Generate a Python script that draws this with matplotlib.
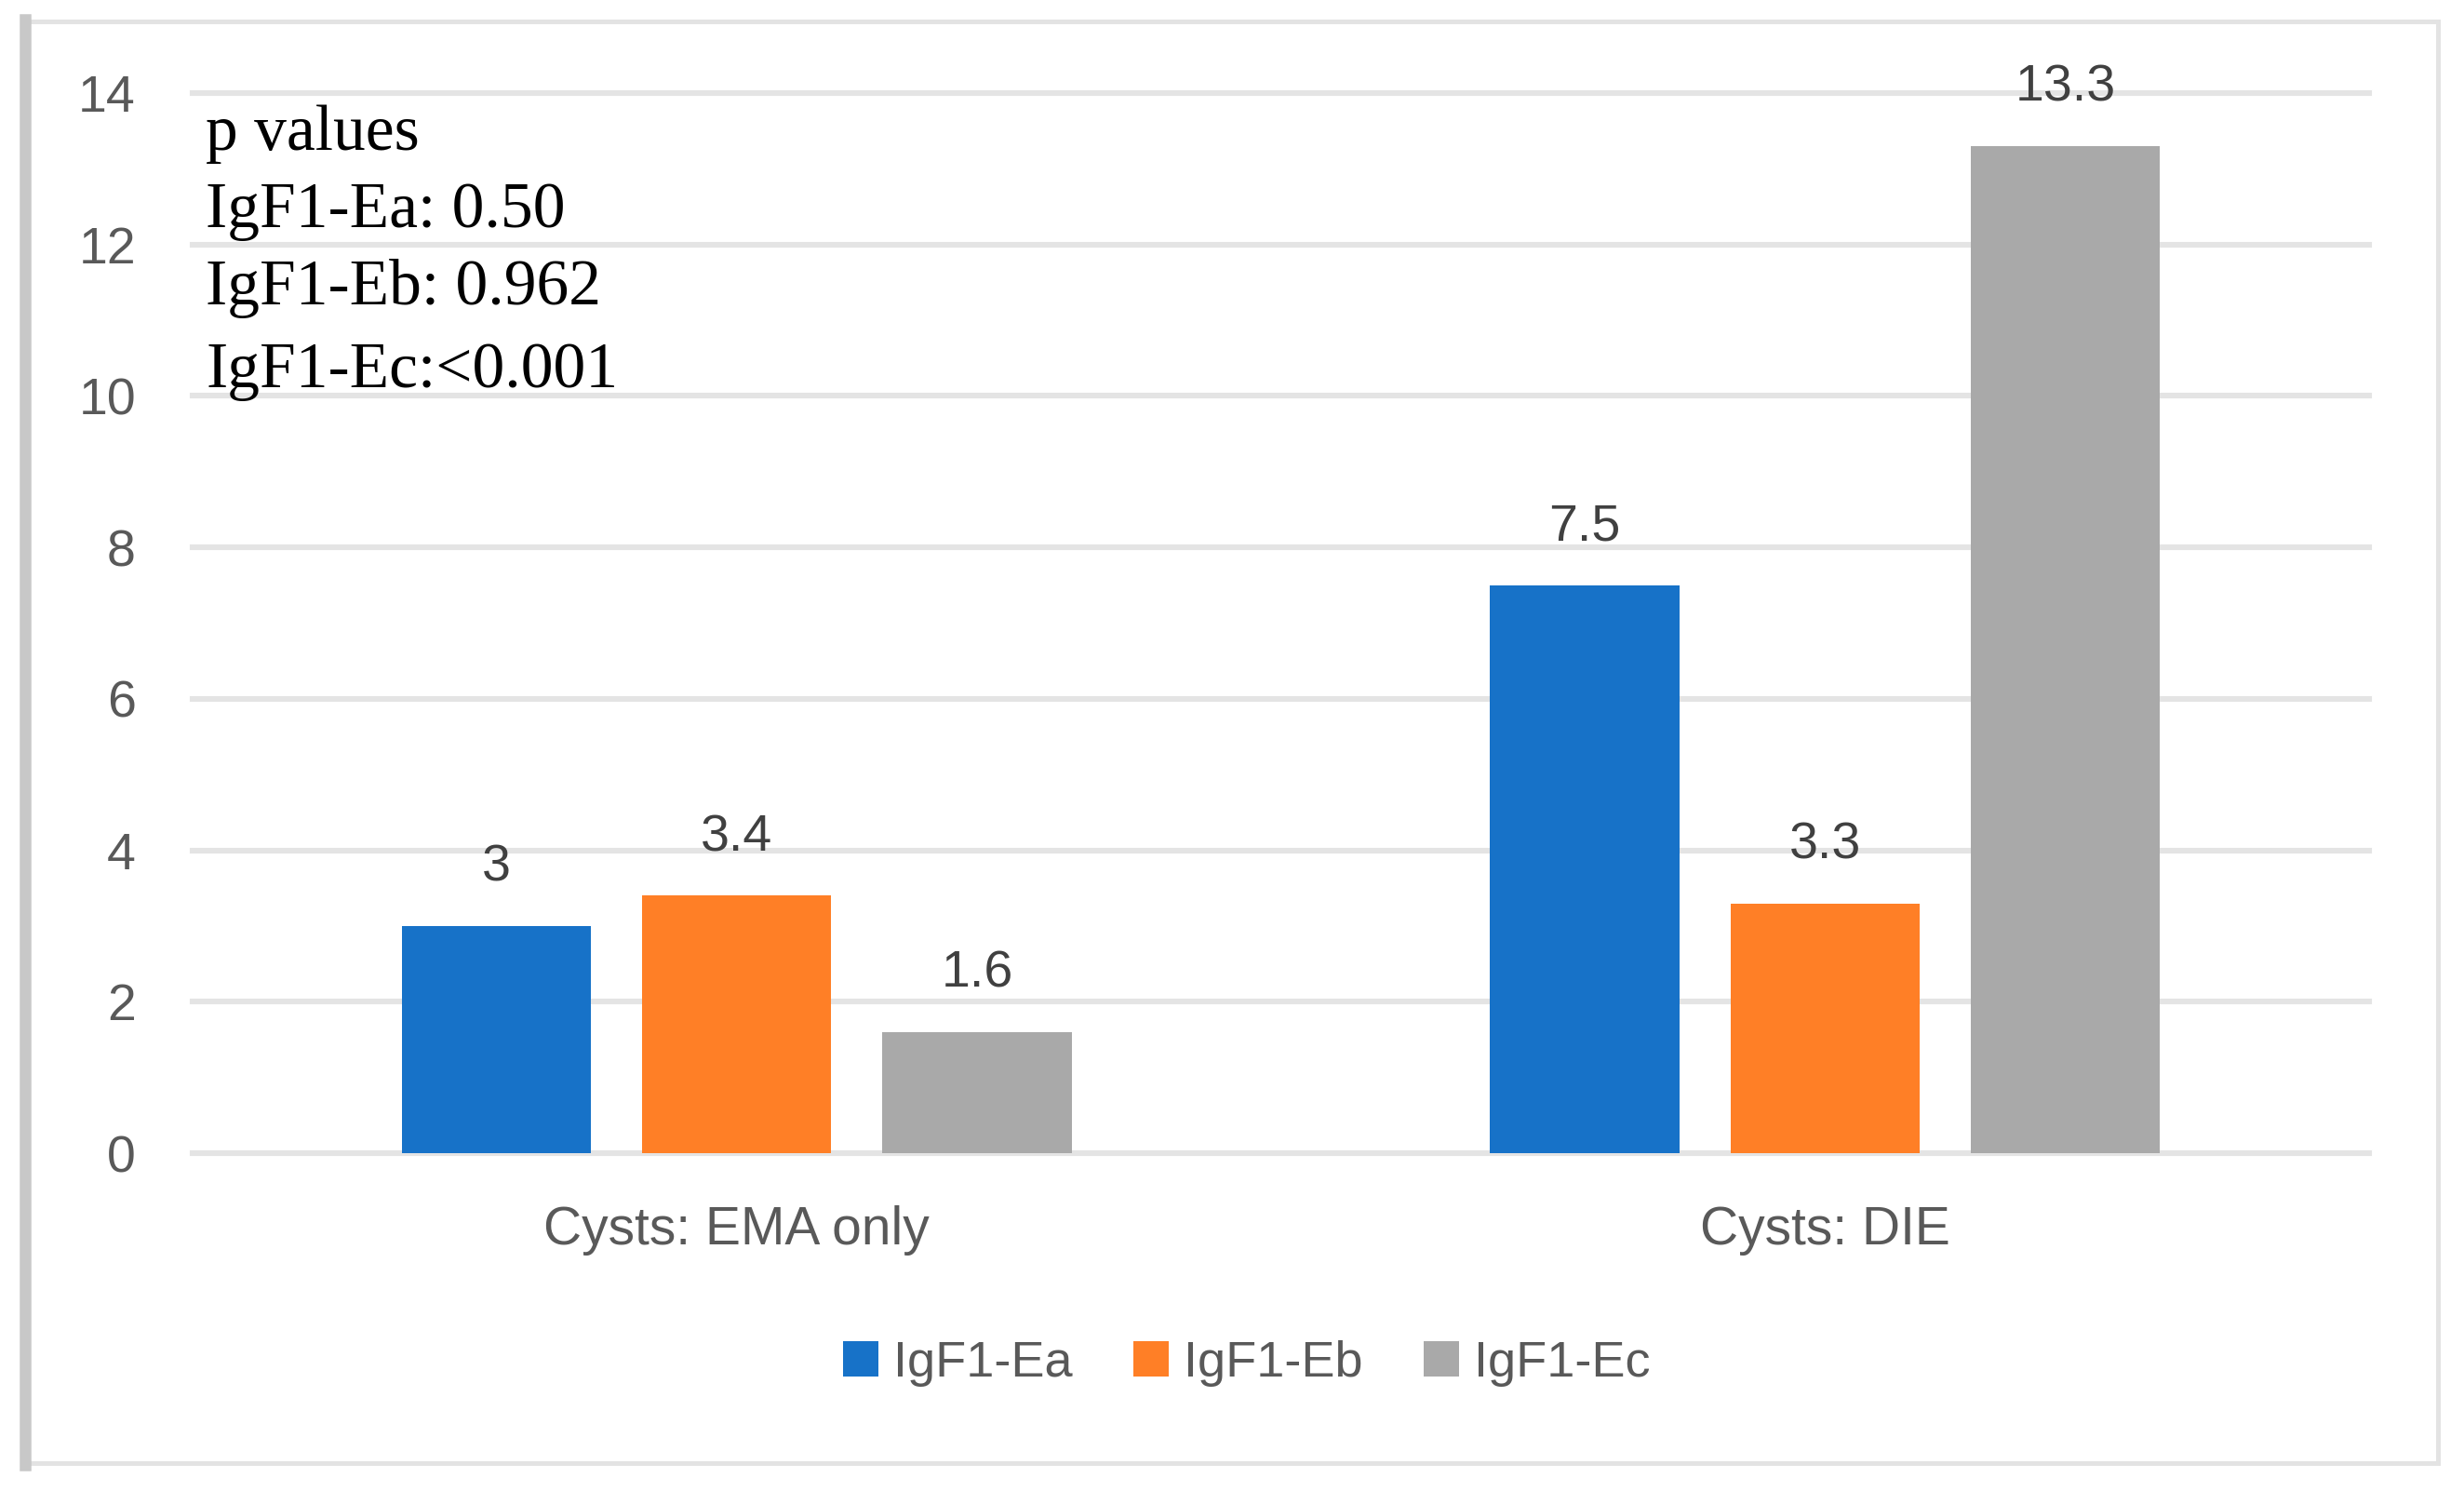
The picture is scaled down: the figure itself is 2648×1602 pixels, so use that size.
import matplotlib
matplotlib.use("Agg")
import matplotlib.pyplot as plt
import numpy as np
from matplotlib.patches import Rectangle
from matplotlib.lines import Line2D

# ---- data ----
categories = ["Cysts: EMA only", "Cysts: DIE"]
series_names = ["IgF1-Ea", "IgF1-Eb", "IgF1-Ec"]
vals_ea = [3, 7.5]
vals_eb = [3.4, 3.3]
vals_ec = [1.6, 13.3]
label_ea = ["3", "7.5"]
label_eb = ["3.4", "3.3"]
label_ec = ["1.6", "13.3"]
y_ticks = [0, 2, 4, 6, 8, 10, 12, 14]
pvalue_lines = ["p values", "IgF1-Ea: 0.50", "IgF1-Eb: 0.962", "IgF1-Ec:<0.001"]

colors = ["#1772C8", "#FF7F26", "#A9A9A9"]
sans = ["Liberation Sans", "DejaVu Sans"]
serif = ["Liberation Serif", "DejaVu Serif"]

W, H = 2648, 1602
dpi = 200
fig = plt.figure(figsize=(W / dpi, H / dpi), dpi=dpi)
fig.patch.set_facecolor("white")

ax = fig.add_axes([207 / W, 1 - 1239 / H, (2546 - 207) / W, (1239 - 100) / H])
ax.set_facecolor("white")

x = np.arange(len(categories))
step = 0.221
bw = 0.174
all_vals = [vals_ea, vals_eb, vals_ec]
all_labels = [label_ea, label_eb, label_ec]
for i, (vals, labs) in enumerate(zip(all_vals, all_labels)):
    bars = ax.bar(x + (i - 1) * step, vals, width=bw, color=colors[i],
                  label=series_names[i], zorder=3, linewidth=0)
    ax.bar_label(bars, labels=labs, padding=13, fontsize=20, color="#404040",
                 family=sans)

ax.set_xlim(-0.5, 1.5)
ax.set_ylim(0, 14)
ax.set_yticks(y_ticks)
ax.set_yticklabels([str(t) for t in y_ticks])
ax.set_xticks(x)
ax.set_xticklabels(categories)
ax.yaxis.grid(True, color="#E4E4E4", linewidth=2.2, zorder=0)
for gl in ax.get_ygridlines():
    gl.set_clip_on(False)
ax.set_axisbelow(True)
for s in ax.spines.values():
    s.set_visible(False)
ax.tick_params(axis="y", length=0, pad=22, labelsize=20, labelcolor="#595959")
ax.tick_params(axis="x", length=0, pad=20, labelsize=20.5, labelcolor="#595959")
for lab in ax.get_yticklabels() + ax.get_xticklabels():
    lab.set_family(sans)

# p values annotation
ys = [0.9465, 0.8736, 0.8007, 0.7226]
for txt, yy in zip(pvalue_lines, ys):
    ax.text(0.006, yy, txt, transform=ax.transAxes, fontsize=25, family=serif,
            color="black", va="baseline", ha="left")

# legend
leg = fig.legend(loc="center", bbox_to_anchor=(0.506, 0.0855), ncol=3,
                 frameon=False, handlelength=0.7, handleheight=0.7,
                 handletextpad=0.3, columnspacing=1.2,
                 prop={"family": sans, "size": 19.5})
for t in leg.get_texts():
    t.set_color("#595959")

# outer border
fig.add_artist(Rectangle((27 / W, 1 - 1572 / H), (2620 - 27) / W, (1572 - 23) / H,
                         transform=fig.transFigure, fill=False,
                         edgecolor="#E3E3E3", linewidth=1.8))
fig.add_artist(Line2D([27 / W, 27 / W], [1 - 1574 / H, 1 - 21 / H],
                      transform=fig.transFigure, color="#C8C8C8", linewidth=4.5))

fig.savefig("out.png", dpi=dpi, facecolor="white")
